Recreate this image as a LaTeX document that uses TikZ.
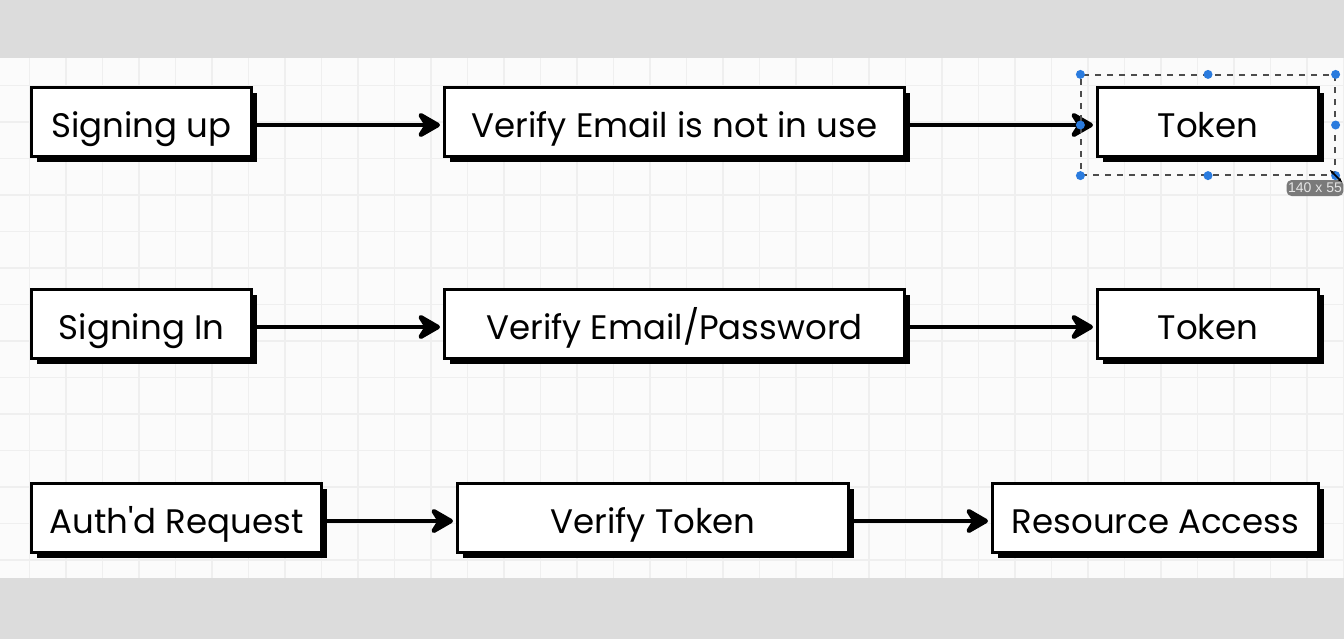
\documentclass[tikz,border=0pt]{standalone}
\usepackage{fontspec}
\newfontfamily\boxfont{Poppins}
\newfontfamily\uifont{Liberation Sans}
\usetikzlibrary{arrows.meta,shadows}

\definecolor{bandgray}{HTML}{DCDCDC}
\definecolor{paper}{HTML}{FBFBFB}
\definecolor{gridgray}{HTML}{EFEFEF}
\definecolor{handleblue}{HTML}{2A7BDE}
\definecolor{tipgray}{HTML}{7A7A7A}

\tikzset{
  stepbox/.style={draw, line width=1.5pt, fill=white, inner sep=0pt,
    minimum height=34.5pt, text height=15pt, text depth=0pt,
    font=\boxfont\fontsize{17}{20}\selectfont,
    general shadow={fill=black, shadow xshift=2.5pt, shadow yshift=-2.5pt}},
  flow/.style={line width=2.4pt, shorten >=1.5pt,
    transform canvas={yshift=-1.5pt},
    -{Stealth[length=14pt,width=16pt,inset=5pt,round]}},
  gridline/.style={gridgray, line width=0.6pt},
  handle/.style={circle, fill=handleblue, inner sep=0pt, minimum size=4.5pt}
}

\begin{document}
\begin{tikzpicture}[x=0.5pt, y=-0.5pt]
    \useasboundingbox (0,0) rectangle (1344,639);

    % Background and grid
    \fill[bandgray] (0,0) rectangle (1344,639);
    \fill[paper] (0,58) rectangle (1344,578);
    \foreach \x in {29.5,66,...,1344}
        \draw[gridline] (\x,58) -- (\x,578);
    \foreach \y in {85.5,122,...,578}
        \draw[gridline] (0,\y) -- (1344,\y);

    % Signing up
    \node[stepbox, minimum width=110pt] (signup) at (141.5,122) {Signing up};
    \node[stepbox, minimum width=230pt] (checkmail) at (674.5,122) {Verify Email is not in use};
    \node[stepbox, minimum width=110.5pt] (tokenup) at (1208,122) {Token};
    \draw[flow] (signup) -- (checkmail);
    \draw[flow] (checkmail) -- (tokenup);

    % Signing in
    \node[stepbox, minimum width=110pt] (signin) at (141.5,324) {Signing In};
    \node[stepbox, minimum width=230pt] (checkpass) at (674.5,324) {Verify Email/Password};
    \node[stepbox, minimum width=110.5pt] (tokenin) at (1208,324) {Token};
    \draw[flow] (signin) -- (checkpass);
    \draw[flow] (checkpass) -- (tokenin);

    % Authenticated request
    \node[stepbox, minimum width=145pt] (authreq) at (176.5,518) {Auth'd Request};
    \node[stepbox, minimum width=195.5pt] (checktoken) at (653,518) {Verify Token};
    \node[stepbox, minimum width=163pt] (access) at (1155.5,518) {Resource Access};
    \draw[flow] (authreq) -- (checktoken);
    \draw[flow] (checktoken) -- (access);

    % Selection around the first token
    \node[draw=black!70, dashed, line width=0.6pt, inner sep=0pt,
          minimum width=127pt, minimum height=50pt] (select) at (1208,125) {};
    \foreach \a in {north west,north,north east,west,east,south west,south,south east}
        \node[handle] at (select.\a) {};
    \node[fill=tipgray, text=white!90!black, rounded corners=2.5pt,
          minimum width=28pt, minimum height=8pt, inner sep=0.8pt,
          font=\uifont\fontsize{7}{8}\selectfont] (size) at (1315,188) {140 x 55};
    \draw[line width=0.8pt, {Stealth[length=2.5pt]}-{Stealth[length=2.5pt]}]
        (1330,170) -- (1342,182);
\end{tikzpicture}
\end{document}
